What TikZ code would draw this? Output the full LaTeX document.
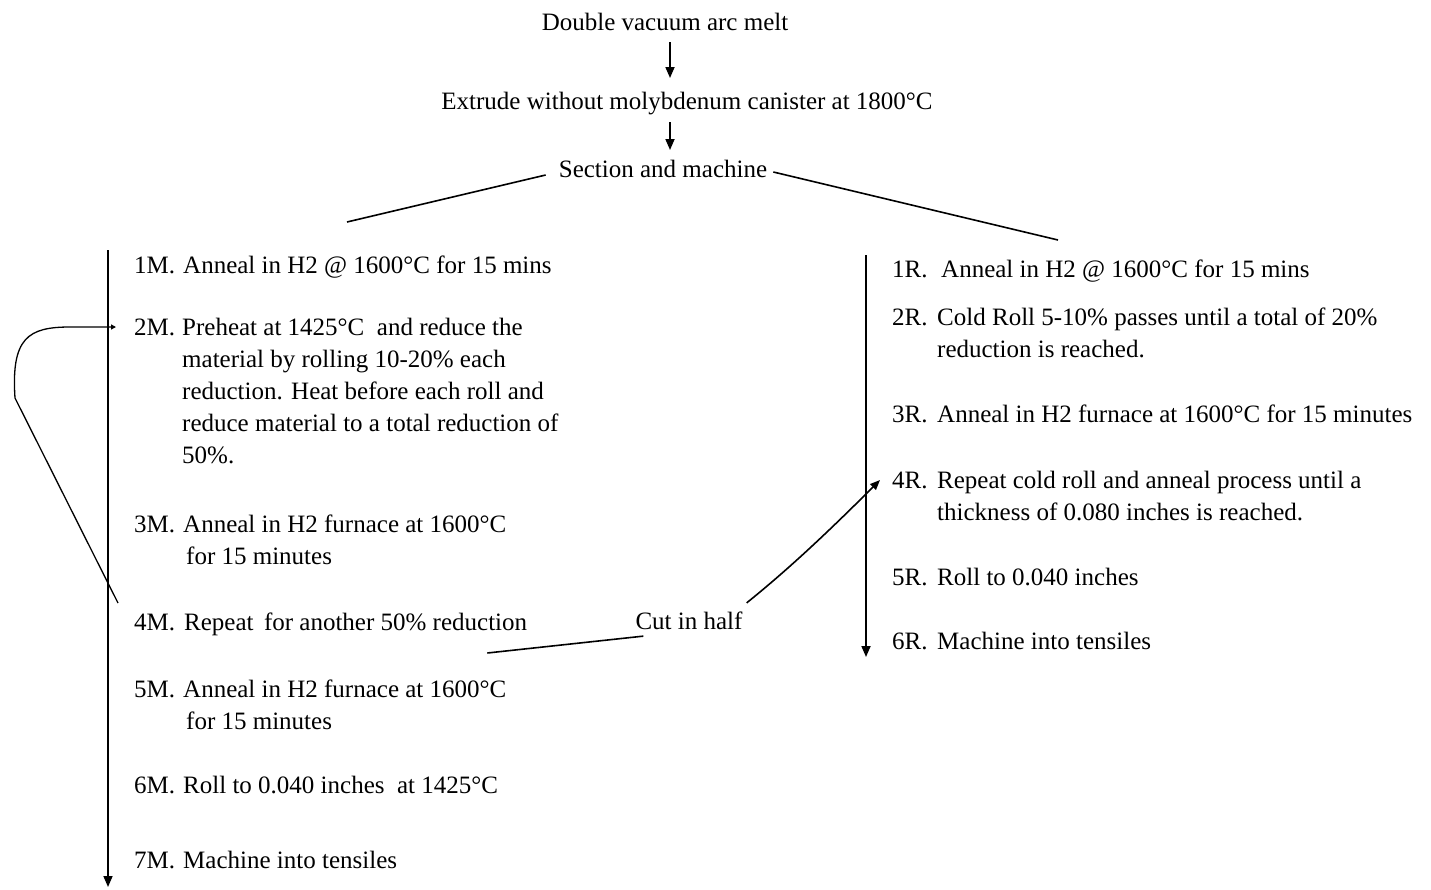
\documentclass[tikz,border=0pt]{standalone}
\usepackage{fontspec}
\setmainfont{Liberation Serif}
\usetikzlibrary{positioning,arrows.meta}
\begin{document}
\begin{tikzpicture}[x=1pt,y=-1pt,
	every node/.style={inner sep=0pt,font=\fontsize{25}{32}\selectfont},
	lbl/.style={anchor=base west},
	txt/.style={anchor=base west},
	mtxt/.style={anchor=north west,align=left},
	ln/.style={line width=1.6pt},
	arr/.style={line width=1.7pt,-{Triangle[length=11pt,width=9pt]}}]
	\useasboundingbox (0,0) rectangle (1431,889);
	%% top of the chart
	\node (melt) at (665,22) {Double vacuum arc melt};
	\node (extrude) at (687,104) {Extrude without molybdenum canister at 1800°C};
	\node (section) at (663,169) {Section and machine};
	\coordinate (secl) at (347,222);
	\coordinate (secr) at (1058,240);
	%% left branch
	\coordinate (mtop) at (108,250);
	\coordinate (mbot) at (108,887);
	\node[lbl] (m1) at (134,273) {1M.};
	\node[txt] (t1) at (183,273) {Anneal in H2 @ 1600°C for 15 mins};
	\node[lbl] (m2) at (134,335) {2M.};
	\node[mtxt] (t2) at (182,318) {Preheat at 1425°C\ \ and reduce the\\material by rolling 10-20\% each\\reduction. Heat before each roll and\\reduce material to a total reduction of\\50\%.};
	\node[lbl] (m3) at (134,532) {3M.};
	\node[mtxt] (t3) at (183,515) {Anneal in H2 furnace at 1600°C\\\hspace{3pt}for 15 minutes};
	\node[lbl] (m4) at (134,630) {4M.};
	\node[txt] (t4) at (184,630) {Repeat\, for another 50\% reduction};
	\node[lbl] (m5) at (134,697) {5M.};
	\node[mtxt] (t5) at (183,680) {Anneal in H2 furnace at 1600°C\\\hspace{3pt}for 15 minutes};
	\node[lbl] (m6) at (134,793) {6M.};
	\node[txt] (t6) at (183,793) {Roll to 0.040 inches\ \ at 1425°C};
	\node[lbl] (m7) at (134,868) {7M.};
	\node[txt] (t7) at (183,868) {Machine into tensiles};
	%% right branch
	\coordinate (rtop) at (866,255);
	\coordinate (rbot) at (866,657);
	\node[lbl] (r1) at (892,277) {1R.};
	\node[txt] (u1) at (941,277) {Anneal in H2 @ 1600°C for 15 mins};
	\node[lbl] (r2) at (892,325) {2R.};
	\node[mtxt] (u2) at (937,308) {Cold Roll 5-10\% passes until a total of 20\%\\reduction is reached.};
	\node[lbl] (r3) at (892,422) {3R.};
	\node[txt] (u3) at (937,422) {Anneal in H2 furnace at 1600°C for 15 minutes};
	\node[lbl] (r4) at (892,488) {4R.};
	\node[mtxt] (u4) at (937,471) {Repeat cold roll and anneal process until a\\thickness of 0.080 inches is reached.};
	\node[lbl] (r5) at (892,585) {5R.};
	\node[txt] (u5) at (937,585) {Roll to 0.040 inches};
	\node[lbl] (r6) at (892,649) {6R.};
	\node[txt] (u6) at (937,649) {Machine into tensiles};
	%% cut in half
	\node (cut) at (689,621) {Cut in half};
	% connectors
	\draw[arr] ([shift={(5,20)}]melt.center) -- ([shift={(-17,-26)}]extrude.center);
	\draw[arr] ([shift={(-17,18)}]extrude.center) -- ([shift={(7,-19)}]section.center);
	\draw[ln] ([shift={(-13,6)}]section.west) -- (secl);
	\draw[ln] ([shift={(6,3)}]section.east) -- (secr);
	\draw[arr] (mtop) -- (mbot);
	\draw[arr] (rtop) -- (rbot);
	\draw[line width=1.3pt,-{Triangle[length=5pt,width=5pt]}] ([shift={(-16,-27)}]m4.base west) -- (15,398)
		.. controls (11,338) and (28,327) .. (70,327) -- ([shift={(-18,-8)}]m2.base west);
	\draw[ln] ([shift={(8,6)}]cut.south west) -- ([shift={(-40,23)}]t4.base east);
	\draw[ln,-{Triangle[length=10pt,width=8pt]}] ([shift={(4,-9)}]cut.north east)
		.. controls (790,568) and (830,530) .. ([shift={(-12,-8)}]r4.base west);
\end{tikzpicture}
\end{document}
